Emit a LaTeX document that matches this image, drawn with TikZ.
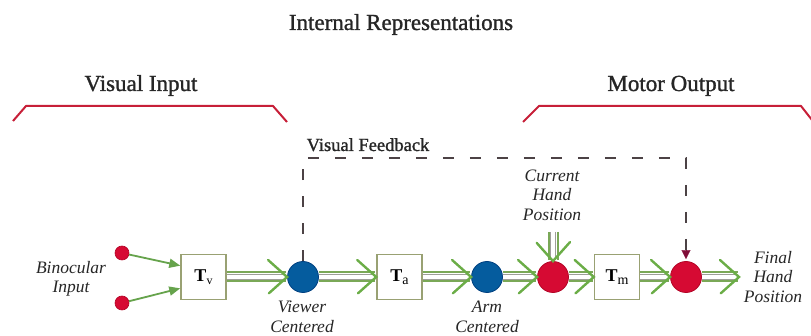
\documentclass[tikz,border=0pt]{standalone}
\usepackage{fontspec}
\setmainfont{Liberation Serif}
\newfontfamily\headfont{Liberation Serif}[FakeBold=1.2]
\usetikzlibrary{arrows.meta,decorations.markings}

\definecolor{inkc}{rgb}{0.15,0.15,0.15}
\definecolor{bracketc}{rgb}{0.78,0.12,0.22}
\definecolor{dotred}{rgb}{0.84,0.04,0.20}
\definecolor{dotredline}{rgb}{0.70,0.02,0.15}
\definecolor{dotblue}{rgb}{0.02,0.36,0.62}
\definecolor{dotblueline}{rgb}{0.00,0.25,0.50}
\definecolor{boxc}{rgb}{0.60,0.63,0.45}
\definecolor{railc}{rgb}{0.48,0.66,0.34}
\definecolor{railin}{rgb}{0.62,0.62,0.60}
\definecolor{chevc}{rgb}{0.42,0.68,0.28}
\definecolor{thinc}{rgb}{0.40,0.64,0.30}
\definecolor{fbc}{rgb}{0.30,0.26,0.27}
\definecolor{fbtip}{rgb}{0.50,0.05,0.22}

\tikzset{
  heading/.style={font=\headfont\fontsize{23}{26}\selectfont, text=inkc, inner sep=0pt, anchor=base},
  sublabel/.style={font=\headfont\fontsize{18.5}{20}\selectfont, text=inkc, inner sep=0pt, anchor=base},
  tag/.style={font=\itshape\fontsize{17.5}{19.5}\selectfont, text=inkc, align=center, inner sep=0pt},
  opbox/.style={draw=boxc, line width=1.5pt, fill=white, minimum size=45pt, inner sep=0pt,
    font=\fontsize{18}{18}\selectfont},
  reddot/.style={circle, fill=dotred, draw=dotredline, line width=0.6pt, minimum size=14pt, inner sep=0pt},
  redhub/.style={circle, fill=dotred, draw=dotredline, line width=0.8pt, minimum size=31pt, inner sep=0pt},
  bluehub/.style={circle, fill=dotblue, draw=dotblueline, line width=0.8pt, minimum size=31pt, inner sep=0pt},
  bracket/.style={draw=bracketc, line width=2pt, line join=round},
  thinarrow/.style={draw=thinc, line width=1.8pt, -{Triangle[length=11pt,width=9pt]}},
  rail/.style={draw=railc, line width=2pt, double=white, double distance=7pt,
    shorten >=1pt,
    postaction={draw=railin, line width=1pt, double=white, double distance=4pt},
    postaction={decorate, decoration={markings,
      mark=at position 1 with {\draw[chevc, line width=2.4pt, line cap=round, line join=miter]
        (-19pt,17pt) -- (0pt,0pt) -- (-19pt,-17pt);}}}},
  feedback/.style={draw=fbc, line width=1.4pt, dash pattern=on 11pt off 16pt},
  fbhead/.style={-{Triangle[length=9pt,width=9pt,fill=fbtip]}, fbtip, shorten >=2pt},
}

\begin{document}
\begin{tikzpicture}[x=1pt, y=-1pt]
  \useasboundingbox (0,0) rectangle (811,336);

  % headings
  \node[heading] (title) at (401,30) {Internal Representations};
  \node[heading] (vin) at (141,91) {Visual Input};
  \node[heading] (mout) at (671,91) {Motor Output};

  % brackets under the two side headings
  \draw[bracket] (13,121) -- (26,106) -- (273,106) -- (287,122);
  \draw[bracket] (523,122) -- (539,106) -- (801,106) -- (812,120);

  % processing chain
  \node[reddot] (e1) at (122,253) {};
  \node[reddot] (e2) at (122,303) {};
  \node[opbox] (tv) at (203.5,277) {\textbf{T}\raisebox{-3pt}{\fontsize{12}{12}\selectfont v}};
  \node[bluehub] (vc) at (303,277) {};
  \node[opbox] (ta) at (399.5,277) {\textbf{T}\raisebox{-3pt}{\fontsize{14}{14}\selectfont a}};
  \node[bluehub] (ac) at (487,277) {};
  \node[redhub] (ch) at (553,277) {};
  \node[opbox] (tm) at (617,277) {\textbf{T}\raisebox{-3pt}{\fontsize{14}{14}\selectfont m}};
  \node[redhub] (fh) at (686,277) {};
  \coordinate (out) at (739,277);
  \coordinate (chin) at (553,232);
  \coordinate (fbline) at (0,158);

  % labels
  \node[tag] (bino) at (71,279) {Binocular\\Input};
  \node[tag] (vcl) at (302,317) {Viewer\\Centered};
  \node[tag] (acl) at (487,317) {Arm\\Centered};
  \node[tag] (chl) at (552,195) {Current\\Hand\\Position};
  \node[tag] (fhl) at (773,277) {Final\\Hand\\Position};
  \node[sublabel] (vfb) at (368,151) {Visual Feedback};

  % connections
  \draw[thinarrow] (e1) -- (tv.154);
  \draw[thinarrow] (e2) -- (tv.206);
  \draw[rail] (tv.east) -- (vc.west);
  \draw[rail] (vc.east) -- (ta.west);
  \draw[rail] (ta.east) -- (ac.west);
  \draw[rail] (ac.east) -- (ch.west);
  \draw[rail] (ch.east) -- (tm.west);
  \draw[rail] (tm.east) -- (fh.west);
  \draw[rail] (fh.east) -- (out);
  \draw[rail] (chin) -- (ch.north);

  % visual feedback loop
  \draw[feedback] (vc.north) -- (vc.north |- fbline) -| ([yshift=9pt]fh.north);
  \draw[fbhead] ([yshift=10pt]fh.north) -- (fh.north);
\end{tikzpicture}
\end{document}
